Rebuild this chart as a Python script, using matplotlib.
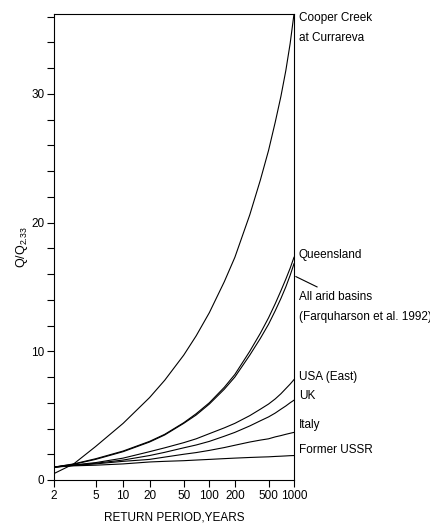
import numpy as np
import matplotlib
matplotlib.use('Agg')
import matplotlib.pyplot as plt
from matplotlib.ticker import NullLocator, MultipleLocator
import matplotlib.transforms as mtransforms

# Periodos de retorno (anos) y curvas de crecimiento Q/Q2.33
periodos = [2, 3, 5, 10, 20, 30, 50, 70, 100, 150, 200, 300, 400, 500, 600, 700, 800, 900, 1000]

cooper = [0.5, 1.25, 2.6, 4.4, 6.4, 7.75, 9.7, 11.2, 13.0, 15.4, 17.3, 20.6, 23.3, 25.6,
          27.8, 29.8, 31.8, 33.9, 36.2]
queensland = [1.0, 1.25, 1.65, 2.25, 3.0, 3.55, 4.45, 5.15, 6.0, 7.2, 8.2, 10.0, 11.4, 12.6,
              13.7, 14.7, 15.6, 16.45, 17.3]
arid = [1.0, 1.22, 1.6, 2.2, 2.95, 3.5, 4.4, 5.05, 5.9, 7.05, 8.0, 9.7, 11.0, 12.1,
        13.15, 14.1, 15.0, 15.9, 16.8]
usa = [1.0, 1.17, 1.35, 1.7, 2.2, 2.5, 2.9, 3.2, 3.6, 4.05, 4.4, 5.0, 5.5, 5.9,
       6.3, 6.7, 7.1, 7.45, 7.8]
uk = [1.0, 1.15, 1.3, 1.55, 1.9, 2.15, 2.5, 2.72, 3.0, 3.4, 3.7, 4.2, 4.6, 4.9,
      5.2, 5.5, 5.75, 6.0, 6.2]
italy = [1.0, 1.13, 1.25, 1.45, 1.6, 1.78, 2.0, 2.13, 2.3, 2.52, 2.7, 2.95, 3.1, 3.2,
         3.35, 3.45, 3.55, 3.63, 3.7]
ussr = [1.0, 1.1, 1.15, 1.25, 1.4, 1.45, 1.5, 1.55, 1.6, 1.66, 1.7, 1.75, 1.78, 1.8,
        1.83, 1.85, 1.87, 1.89, 1.9]

ticks_x = [2, 5, 10, 20, 50, 100, 200, 500, 1000]
ticks_y = [0, 10, 20, 30]

# textos de la derecha y su altura en unidades Q/Q2.33
etiquetas = ['Cooper Creek', 'at Currareva', 'Queensland', 'All arid basins',
             '(Farquharson et al. 1992)', 'USA (East)', 'UK', 'Italy', 'Former USSR']
alturas = [35.9, 34.3, 17.5, 14.2, 12.7, 8.0, 6.5, 4.3, 2.3]


def gumbel(t):
    # variable reducida de Gumbel
    t = np.asarray(t, dtype=float)
    with np.errstate(all='ignore'):
        return -np.log(-np.log(1 - 1 / t))


def gumbel_inv(y):
    y = np.asarray(y, dtype=float)
    with np.errstate(all='ignore'):
        return 1 / (1 - np.exp(-np.exp(-y)))


plt.rcParams['font.family'] = ['Liberation Sans Narrow', 'Liberation Sans', 'DejaVu Sans']

fig = plt.figure(figsize=(4.31, 5.31), dpi=100)
ax = fig.add_axes([54 / 431, 51 / 531, 240 / 431, 466 / 531])

ax.set_xscale('function', functions=(gumbel, gumbel_inv))
ax.set_xlim(2, 1000)
ax.set_ylim(0, 36.2)

for serie in [cooper, queensland, arid, usa, uk, italy, ussr]:
    ax.plot(periodos, serie, color='black', lw=0.8)

ax.set_xticks(ticks_x)
ax.set_xticklabels([str(t) for t in ticks_x])
ax.xaxis.set_minor_locator(NullLocator())
ax.set_yticks(ticks_y)
ax.yaxis.set_minor_locator(MultipleLocator(2))
ax.tick_params(axis='both', which='both', direction='out', length=5, width=0.8,
               labelsize=8.5, pad=2)

for s in ax.spines.values():
    s.set_linewidth(0.8)

ax.set_xlabel('RETURN PERIOD,YEARS', fontsize=8.5, labelpad=7)
ax.set_ylabel(r'Q/Q$_{\mathregular{2.33}}$', fontsize=9)
ax.yaxis.set_label_coords(-0.1, 0.5)

# Etiquetas a la derecha del eje
trans = mtransforms.blended_transform_factory(ax.transAxes, ax.transData)
for texto, y in zip(etiquetas, alturas):
    ax.text(1.02, y, texto, transform=trans, fontsize=8.5, va='center', ha='left')

# linea guia para "All arid basins"
ax.plot([1.008, 1.096], [15.8, 15.0], transform=trans, color='black',
        lw=0.8, clip_on=False)

fig.savefig('out.png', dpi=100)
